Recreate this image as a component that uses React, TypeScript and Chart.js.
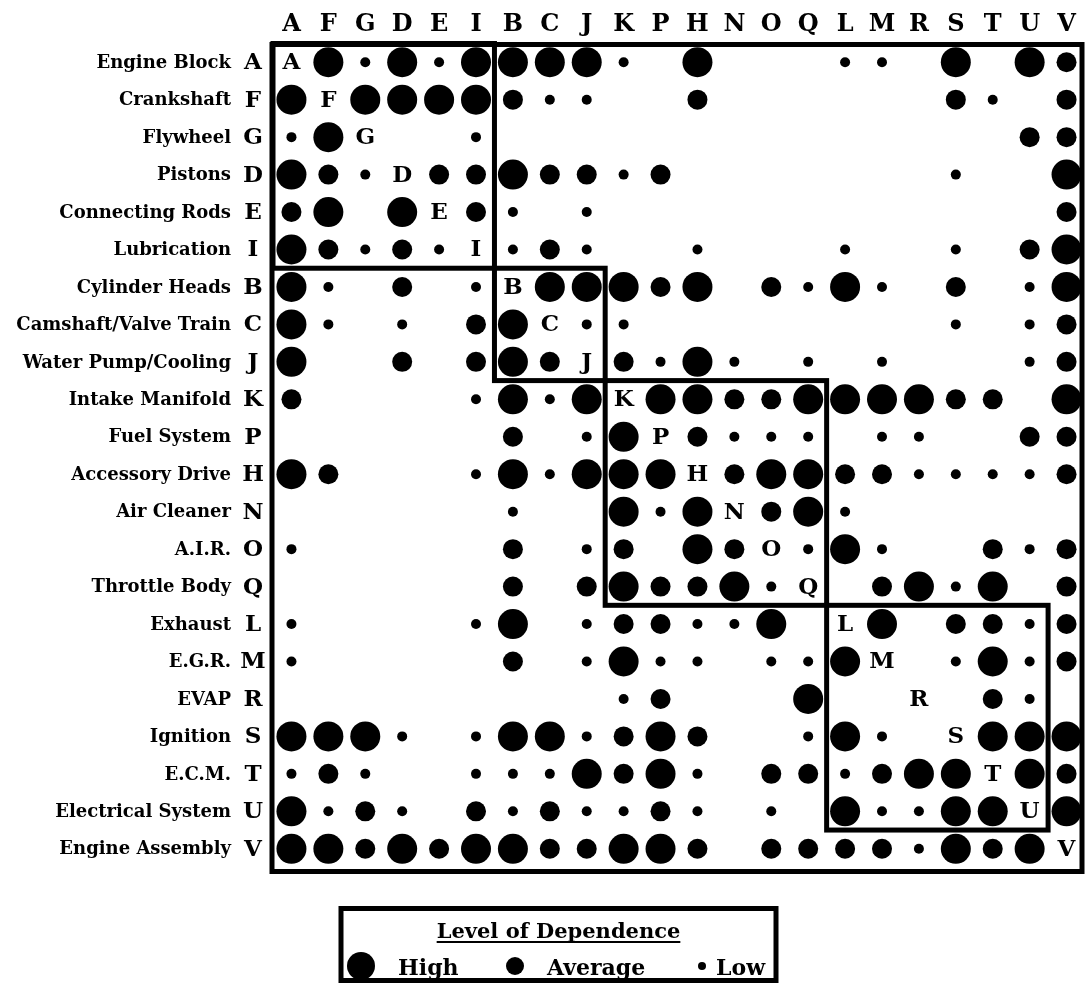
import React, { useEffect, useRef } from 'react';
import { Chart, registerables } from 'chart.js';

Chart.register(...registerables);

// Component codes in matrix order (rows and columns)
const codes = ['A', 'F', 'G', 'D', 'E', 'I', 'B', 'C', 'J', 'K', 'P', 'H', 'N', 'O', 'Q', 'L', 'M', 'R', 'S', 'T', 'U', 'V'];

const names = [
  'Engine Block', 'Crankshaft', 'Flywheel', 'Pistons', 'Connecting Rods', 'Lubrication',
  'Cylinder Heads', 'Camshaft/Valve Train', 'Water Pump/Cooling', 'Intake Manifold',
  'Fuel System', 'Accessory Drive', 'Air Cleaner', 'A.I.R.', 'Throttle Body', 'Exhaust',
  'E.G.R.', 'EVAP', 'Ignition', 'E.C.M.', 'Electrical System', 'Engine Assembly',
];

// Dependence matrix: one string per row, one char per column (H high, M average, L low, . none, X diagonal)
const matrixRows = [
  'XHLHLHHHHL.H...LL.H.HM', // A
  'HXHHHHMLL..M......ML.M', // F
  'LHX..L..............MM', // G
  'HMLXMMHMMLM.......L..H', // D
  'MH.HXML.L............M', // E
  'HMLMLXLML..L...L..L.MH', // I
  'HL.M.LXHHHMH.MLHL.M.LH', // B
  'HL.L.MHXLL........L.LM', // C
  'H..M.MHMXMLHL.L.L...LM', // J
  'M....LHLHXHHMMHHHHMM.H', // K
  '......M.LHXMLLL.LL..MM', // P
  'HM...LHLHHHXMHHMMLLLLM', // H
  '......L..HLHXMHL......', // N
  'L.....M.LM.HMXLHL..MLM', // O
  '......M.MHMMHLX.MHLH.M', // Q
  'L....LH.LMMLLH.XH.MMLM', // L
  'L.....M.LHLL.LLHX.LHLM', // M
  '.........LM...H..X.ML.', // R
  'HHHL.LHHLMHM..LHL.XHHH', // S
  'LML..LLLHMHL.MMLMHHXHM', // T
  'HLML.MLMLLML.L.HLLHHXH', // U
  'HHMHMHHMMHHM.MMMMLHMHX', // V
];

const levelKeys = ['H', 'M', 'L'];
const levelLabels = ['High', 'Average', 'Low'];
const levelRadii = [15, 10, 5];

// Groups (start, end index) framed with heavy boxes
const groupStarts = [0, 6, 9, 15];
const groupEnds = [5, 8, 14, 20];

const FONT = '"DejaVu Serif", "Liberation Serif", serif';

function buildDatasets() {
  return levelKeys.map((key, li) => {
    const pts: { x: number; y: number }[] = [];
    matrixRows.forEach((row, r) => {
      row.split('').forEach((ch, c) => {
        if (ch === key) pts.push({ x: c, y: r });
      });
    });
    return {
      label: levelLabels[li],
      data: pts,
      pointRadius: levelRadii[li],
      pointHoverRadius: levelRadii[li],
      pointBackgroundColor: '#000',
      pointBorderColor: '#000',
      pointBorderWidth: 0,
      showLine: false,
      clip: false as any,
    };
  });
}

const dsmPlugin = {
  id: 'dsmDecor',
  afterDatasetsDraw(chart: any) {
    const { ctx } = chart;
    const xs = chart.scales.x;
    const ys = chart.scales.y;
    const px = (v: number) => xs.getPixelForValue(v);
    const py = (v: number) => ys.getPixelForValue(v);
    ctx.save();
    ctx.fillStyle = '#000';
    ctx.strokeStyle = '#000';

    // diagonal letters
    ctx.font = `bold 23px ${FONT}`;
    ctx.textAlign = 'center';
    ctx.textBaseline = 'middle';
    codes.forEach((c, i) => ctx.fillText(c, px(i), py(i) + 1));

    // group boxes
    ctx.lineWidth = 5;
    ctx.lineJoin = 'miter';
    groupStarts.forEach((a, gi) => {
      const b = groupEnds[gi];
      const x0 = px(a - 0.5);
      const y0 = py(a - 0.5);
      ctx.strokeRect(x0, y0, px(b + 0.5) - x0, py(b + 0.5) - y0);
    });

    // outer frame
    const fx0 = px(-0.5) - 1;
    const fy0 = py(-0.5) + 1;
    const fx1 = px(21.5) - 3;
    const fy1 = py(21.5) + 4;
    ctx.strokeRect(fx0, fy0, fx1 - fx0, fy1 - fy0);

    // row labels
    names.forEach((n, i) => {
      const y = py(i);
      ctx.font = `bold 18px ${FONT}`;
      ctx.textAlign = 'right';
      ctx.textBaseline = 'middle';
      ctx.fillText(n, px(-0.5) - 42, y + 1);
      ctx.font = `bold 23px ${FONT}`;
      ctx.textAlign = 'center';
      ctx.fillText(codes[i], px(-0.5) - 20, y + 1);
    });

    // legend
    const lx0 = 341;
    const lx1 = 776;
    const ly0 = 908.5;
    const ly1 = 980.5;
    ctx.lineWidth = 5;
    ctx.strokeRect(lx0, ly0, lx1 - lx0, ly1 - ly0);
    const cx = (lx0 + lx1) / 2;
    ctx.font = `bold 21px ${FONT}`;
    ctx.textAlign = 'center';
    ctx.textBaseline = 'alphabetic';
    const title = 'Level of Dependence';
    ctx.fillText(title, cx, 938);
    const tw = ctx.measureText(title).width;
    ctx.lineWidth = 2;
    ctx.beginPath();
    ctx.moveTo(cx - tw / 2, 942);
    ctx.lineTo(cx + tw / 2, 942);
    ctx.stroke();

    const dotX = [361, 515, 702];
    const textX = [398, 547, 716];
    ctx.font = `bold 22px ${FONT}`;
    ctx.textAlign = 'left';
    levelLabels.forEach((lab, i) => {
      ctx.beginPath();
      ctx.arc(dotX[i], 966, levelRadii[i] - 1, 0, Math.PI * 2);
      ctx.fill();
      ctx.fillText(lab, textX[i], 975);
    });
    ctx.restore();
  },
};

export default function App() {
  const ref = useRef<HTMLCanvasElement | null>(null);
  useEffect(() => {
    document.body.style.margin = '0';
    const canvas = ref.current;
    if (!canvas) return;
    const chart = new Chart(canvas, {
      type: 'scatter',
      data: { datasets: buildDatasets() as any },
      options: {
        responsive: false,
        animation: false,
        events: [],
        layout: { padding: { left: 273, right: 4.5, top: 0, bottom: 116.5 } },
        plugins: { legend: { display: false }, tooltip: { enabled: false } },
        scales: {
          x: {
            type: 'linear',
            position: 'top',
            min: -0.5,
            max: 21.5,
            grid: { display: false, drawTicks: false },
            border: { display: false },
            afterBuildTicks: (scale: any) => {
              scale.ticks = codes.map((_, i) => ({ value: i }));
            },
            afterFit: (scale: any) => {
              scale.height = 43.5;
            },
            ticks: {
              autoSkip: false,
              maxRotation: 0,
              padding: 4,
              color: '#000',
              font: { family: FONT, size: 24, weight: 'bold' },
              callback: (v: any) => codes[v] ?? '',
            },
          },
          y: {
            type: 'linear',
            display: false,
            reverse: true,
            min: -0.5,
            max: 21.5,
          },
        },
      },
      plugins: [dsmPlugin],
    });
    return () => chart.destroy();
  }, []);
  return (
    <div style={{ width: 1092, height: 984, overflow: 'hidden', background: '#fff' }}>
      <canvas ref={ref} width={1100} height={984} style={{ width: 1100, height: 984, display: 'block' }} />
    </div>
  );
}
